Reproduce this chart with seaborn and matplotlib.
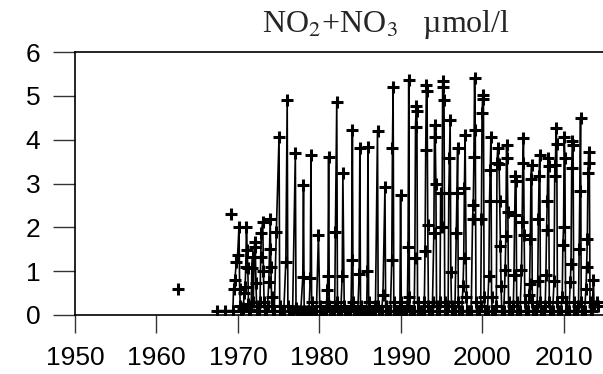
import numpy as np
import pandas as pd
import matplotlib
matplotlib.use("Agg")
import matplotlib.pyplot as plt
import seaborn as sns

n = np.nan

# NO2+NO3 (umol/l), one row per year, columns Jan..Dec (nan = no sample)
years = list(range(1967, 2015))
no23 = [
    [n, n, n, n, 0.1, n, n, n, n, n, n, n],                          # 1967
    [n, n, n, n, 0.1, n, n, n, n, n, n, n],                          # 1968
    [n, n, n, n, 0.1, 0.6, n, 0.8, n, 1.2, n, 1.37],                 # 1969
    [n, 2.0, 0.6, 0.2, 0.1, 0.1, n, 0.15, n, 0.5, 0.65, 1.1],        # 1970
    [2.0, 1.48, 1.07, 0.25, 0.1, 0.12, n, 0.2, 1.07, 1.33, 0.3, n],  # 1971
    [1.67, 1.55, 0.73, 0.2, 0.1, n, 0.1, n, 0.3, 1.33, 1.87, n],     # 1972
    [2.13, 1.0, 0.3, 0.1, n, 0.1, n, 0.2, n, 0.76, 1.5, 2.2],        # 1973
    [1.1, 0.4, 0.2, 0.1, n, 0.1, n, n, 1.9, n, n, n],                # 1974
    [4.07, 0.2, 0.1, n, 0.1, n, n, 0.1, n, n, 1.22, n],              # 1975
    [4.9, 0.2, n, 0.1, n, n, 0.1, n, 0.1, n, n, n],                  # 1976
    [3.69, 0.15, n, 0.1, n, n, 0.1, n, 0.1, n, n, 0.87],             # 1977
    [2.97, 0.1, n, 0.1, n, n, 0.1, n, 0.1, n, 0.84, 3.65],           # 1978
    [0.3, 0.1, n, 0.1, n, 0.1, n, 0.1, n, n, 1.83, n],               # 1979
    [0.2, 0.1, n, 0.1, n, 0.1, n, 0.1, n, 0.1, 0.3, 0.57],           # 1980
    [0.9, 3.6, 0.2, 0.1, n, 0.1, n, 0.1, n, 0.1, 0.2, 1.9],          # 1981
    [n, 4.87, 0.3, 0.1, n, 0.1, n, 0.1, n, 0.9, 3.23, n],            # 1982
    [0.2, 0.1, n, 0.1, n, 0.1, n, 0.1, n, 0.1, 0.2, 1.25],           # 1983
    [4.22, 0.3, 0.1, n, 0.1, n, 0.1, n, 0.1, n, 0.94, 3.8],          # 1984
    [0.2, 0.1, n, 0.1, n, 0.1, n, 0.1, n, 0.1, 1.0, 3.84],           # 1985
    [0.3, 0.1, n, 0.1, n, 0.1, n, 0.1, n, 0.1, 0.2, n],              # 1986
    [n, 4.2, 0.2, 0.1, n, 0.1, n, 0.1, n, 0.45, n, n],               # 1987
    [2.93, 0.2, 0.1, n, 0.1, n, 0.1, n, 0.1, n, 1.25, 3.8],          # 1988
    [5.2, 0.3, 0.1, n, 0.1, n, 0.1, n, 0.1, n, 0.2, 2.74],           # 1989
    [0.3, 0.1, n, 0.1, n, 0.1, n, 0.1, n, 0.2, 1.56, 5.35],          # 1990
    [0.4, 0.1, n, 0.1, n, 0.1, n, 0.1, 1.3, 4.3, 4.76, 4.65],        # 1991
    [0.3, 0.1, n, 0.1, n, 0.1, n, 0.1, n, 0.1, 0.3, 1.47],           # 1992
    [3.77, 5.25, 5.1, 2.05, 0.2, 0.1, n, 0.1, n, 0.1, 0.3, n],       # 1993
    [1.87, 4.34, 4.07, 3.0, 0.2, 0.1, n, 0.1, n, 0.3, 2.78, n],      # 1994
    [2.0, 5.33, 5.2, 4.9, 0.3, 0.1, n, 0.1, n, 0.2, 2.78, 3.58],     # 1995
    [4.45, 0.99, 0.2, 0.1, n, 0.1, n, 0.1, n, 1.87, 2.78, 3.8],      # 1996
    [0.3, 0.1, n, 0.1, n, 0.1, n, 0.67, 1.3, 2.9, 4.1, n],           # 1997
    [0.4, 0.1, n, 0.1, n, 0.1, n, 0.1, n, 2.2, 2.5, 3.6],            # 1998
    [5.4, 4.22, 0.3, 0.1, n, 0.1, n, 0.1, n, 0.2, 2.2, 4.6],         # 1999
    [5.02, 4.92, 0.4, 0.1, n, 0.1, n, 0.1, n, 0.9, 2.6, 3.3],        # 2000
    [4.07, 0.4, 0.1, n, 0.1, n, 0.1, n, 0.2, 3.46, 3.8, n],          # 2001
    [3.45, 2.6, 1.57, 0.66, 0.1, 0.1, n, 0.1, n, 1.02, 1.8, 3.88],   # 2002
    [3.58, 2.35, 0.3, 0.1, n, 0.1, n, 0.1, n, 0.2, 0.92, 2.27],      # 2003
    [3.16, 3.05, 0.3, 0.1, n, 0.1, n, 0.1, n, 1.02, 2.13, 3.46],     # 2004
    [4.03, 1.83, 0.3, 0.1, n, 0.1, n, 0.1, 0.45, 0.7, 1.73, 3.1],    # 2005
    [3.42, 0.3, 0.1, n, 0.1, n, 0.1, n, 0.2, 0.77, 2.2, 3.16],       # 2006
    [3.65, 0.3, 0.1, n, 0.1, n, 0.1, n, 0.2, 0.92, 1.93, 2.6],       # 2007
    [3.58, 3.4, 0.3, 0.1, n, 0.1, n, 0.1, n, 0.77, 3.16, 3.42],      # 2008
    [4.26, 3.9, 0.3, 0.1, n, 0.1, n, 0.1, n, 0.4, 1.6, 2.0],         # 2009
    [4.07, 3.58, 0.3, 0.1, n, 0.1, n, 0.1, n, 0.75, 1.17, 3.35],     # 2010
    [3.96, 3.88, 0.3, 0.1, n, 0.1, n, 0.1, n, 0.2, 1.5, 2.82],       # 2011
    [4.49, 0.3, 0.1, n, 0.1, n, 0.1, n, 0.6, 1.1, 1.73, 3.23],       # 2012
    [3.73, 3.46, 0.3, 0.1, n, 0.1, n, 0.8, 0.2, n, n, n],            # 2013
    [0.3, 0.2, n, n, n, n, n, n, n, n, n, n],                        # 2014
]

# single samples not joined to the series
lone_dates = [1962.6, 1969.1]
lone_vals = [0.6, 2.3]

xticks = [1950, 1960, 1970, 1980, 1990, 2000, 2010]
yticks = [0, 1, 2, 3, 4, 5, 6]

# long form table
rows = []
for yr, vals in zip(years, no23):
    for m, v in enumerate(vals):
        if not np.isnan(v):
            rows.append((yr + (m + 0.5) / 12.0, v))
df = pd.DataFrame(rows, columns=["date", "value"])
lone = pd.DataFrame({"date": lone_dates, "value": lone_vals})

sns.set_style("ticks")
plt.rcParams["font.family"] = ["Liberation Sans", "DejaVu Sans"]

fig = plt.figure(figsize=(6.03, 3.74), dpi=100)
ax = fig.add_axes([75 / 603, 59 / 374, 1 - 75 / 603, 263 / 374])

mk = dict(marker="+", markersize=8, mew=2.2, mec="black", mfc="black")
sns.lineplot(data=df, x="date", y="value", ax=ax, color="black", lw=1.2,
             estimator=None, sort=False, **mk)
sns.lineplot(data=lone, x="date", y="value", ax=ax, color="black", lw=0,
             estimator=None, **mk)

ax.set_xlim(1950, 2014.8)
ax.set_ylim(0, 6)
ax.set_xticks(xticks)
ax.set_yticks(yticks)
ax.set_xlabel("")
ax.set_ylabel("")
ax.tick_params(axis="both", direction="out", labelsize=19, colors="#333333",
               labelcolor="black", width=1.0)
ax.tick_params(axis="y", length=16, pad=9)
ax.tick_params(axis="x", length=13, pad=9)
for side in ["left", "bottom", "top"]:
    ax.spines[side].set_visible(True)
    ax.spines[side].set_color("black")
    ax.spines[side].set_linewidth(1.2)
ax.spines["right"].set_visible(False)

fig.text(386 / 603, 0.935, r"NO$_2$+NO$_3$   µmol/l", ha="center", va="center",
         fontsize=23, family="Liberation Serif",
         math_fontfamily="stix")

fig.savefig("out.png", dpi=100)
